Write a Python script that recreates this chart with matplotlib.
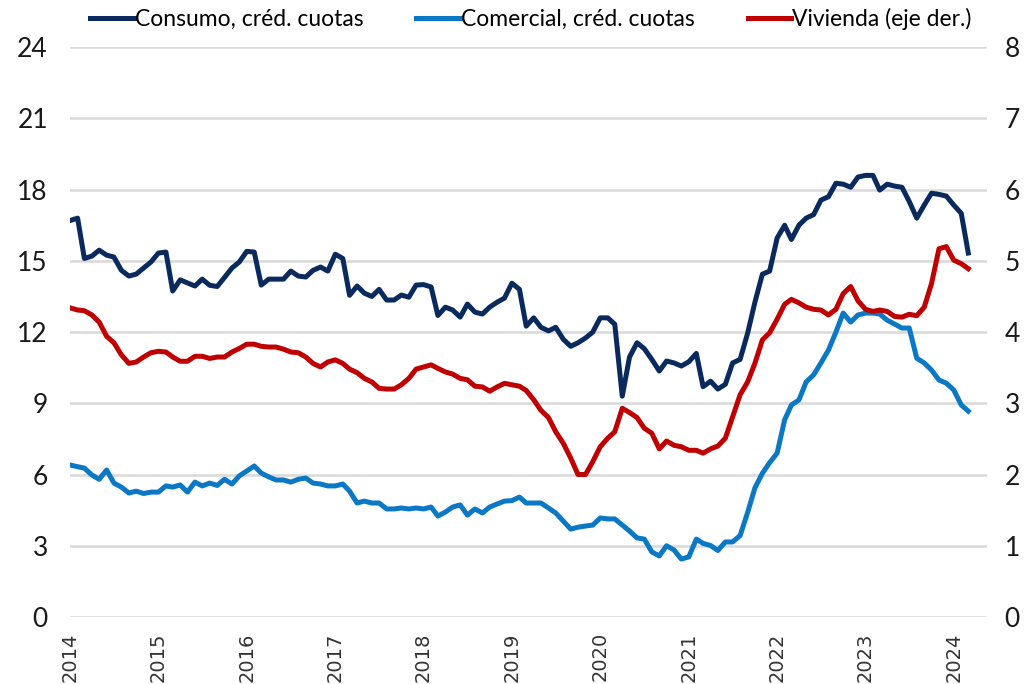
import matplotlib
matplotlib.use("Agg")
import matplotlib.pyplot as plt
import matplotlib.dates as mdates
import pandas as pd

# monthly series, Jan 2014 - Mar 2024
consumo = [16.7, 16.8, 15.1, 15.2, 15.45, 15.24, 15.16, 14.6, 14.36, 14.44, 14.7, 14.95,
           15.33, 15.37, 13.73, 14.2, 14.07, 13.94, 14.23, 13.97, 13.92, 14.3, 14.7, 14.95,
           15.4, 15.37, 13.98, 14.23, 14.23, 14.23, 14.57, 14.36, 14.32, 14.6, 14.74, 14.57,
           15.28, 15.1, 13.55, 13.94, 13.64, 13.5, 13.8, 13.35, 13.35, 13.56, 13.47, 13.98,
           14.0, 13.9, 12.7, 13.05, 12.93, 12.63, 13.18, 12.84, 12.76, 13.05, 13.26, 13.43,
           14.06, 13.8, 12.25, 12.6, 12.2, 12.05, 12.2, 11.7, 11.4, 11.55, 11.75, 12.0,
           12.6, 12.6, 12.33, 9.3, 10.95, 11.55, 11.3, 10.85, 10.36, 10.78, 10.7, 10.57,
           10.75, 11.1, 9.7, 9.93, 9.6, 9.8, 10.7, 10.85, 11.95, 13.25, 14.44, 14.57,
           15.96, 16.5, 15.9, 16.5, 16.8, 16.95, 17.56, 17.7, 18.27, 18.23, 18.1, 18.53,
           18.6, 18.6, 17.98, 18.23, 18.15, 18.1, 17.5, 16.8, 17.35, 17.85, 17.8, 17.73,
           17.35, 17.0, 15.33]

comercial = [6.4, 6.33, 6.27, 5.98, 5.8, 6.19, 5.64, 5.47, 5.22, 5.3, 5.2, 5.26,
             5.26, 5.52, 5.47, 5.56, 5.26, 5.68, 5.52, 5.64, 5.54, 5.8, 5.6, 5.94,
             6.15, 6.36, 6.06, 5.9, 5.77, 5.77, 5.68, 5.8, 5.85, 5.64, 5.6, 5.52,
             5.52, 5.6, 5.3, 4.8, 4.88, 4.8, 4.8, 4.55, 4.55, 4.59, 4.55, 4.59,
             4.55, 4.63, 4.25, 4.42, 4.63, 4.72, 4.29, 4.55, 4.38, 4.63, 4.76, 4.88,
             4.9, 5.05, 4.8, 4.8, 4.8, 4.59, 4.38, 4.04, 3.7, 3.78, 3.83, 3.87,
             4.17, 4.13, 4.13, 3.87, 3.62, 3.33, 3.28, 2.74, 2.57, 3.0, 2.82, 2.44,
             2.53, 3.28, 3.1, 3.01, 2.8, 3.16, 3.16, 3.43, 4.4, 5.43, 6.05, 6.5,
             6.9, 8.3, 8.93, 9.14, 9.9, 10.2, 10.7, 11.24, 12.0, 12.8, 12.42, 12.72,
             12.8, 12.8, 12.76, 12.5, 12.34, 12.17, 12.17, 10.9, 10.7, 10.4, 9.98, 9.85,
             9.56, 8.93, 8.67]

vivienda = [4.34, 4.31, 4.3, 4.24, 4.14, 3.94, 3.85, 3.68, 3.56, 3.58, 3.65, 3.71,
            3.73, 3.72, 3.65, 3.59, 3.59, 3.66, 3.66, 3.63, 3.65, 3.65, 3.72, 3.77,
            3.83, 3.83, 3.8, 3.79, 3.79, 3.76, 3.72, 3.71, 3.65, 3.56, 3.51, 3.58,
            3.61, 3.56, 3.48, 3.43, 3.35, 3.3, 3.21, 3.2, 3.2, 3.26, 3.35, 3.48,
            3.51, 3.54, 3.49, 3.44, 3.41, 3.35, 3.33, 3.24, 3.23, 3.17, 3.23, 3.28,
            3.26, 3.24, 3.18, 3.05, 2.9, 2.8, 2.6, 2.44, 2.23, 2.0, 2.0, 2.18,
            2.39, 2.51, 2.6, 2.93, 2.87, 2.8, 2.65, 2.58, 2.36, 2.47, 2.41, 2.39,
            2.34, 2.34, 2.3, 2.36, 2.4, 2.51, 2.81, 3.12, 3.3, 3.56, 3.89, 3.99,
            4.18, 4.39, 4.46, 4.41, 4.35, 4.32, 4.31, 4.24, 4.32, 4.54, 4.64, 4.44,
            4.32, 4.29, 4.31, 4.29, 4.22, 4.21, 4.25, 4.23, 4.35, 4.68, 5.17, 5.2,
            5.01, 4.96, 4.89]

labels = ["Consumo, créd. cuotas", "Comercial, créd. cuotas", "Vivienda (eje der.)"]
colors = ["#0a2a5e", "#0a78c4", "#c00000"]
years = list(range(2014, 2025))

dates = pd.date_range("2014-01-01", periods=len(consumo), freq="MS")

fig = plt.figure(figsize=(10.31, 6.84), dpi=100)
ax = fig.add_axes([0.068, 0.098, 0.889, 0.833])
ax2 = ax.twinx()

l1, = ax.plot(dates, consumo, color=colors[0], lw=3.6, label=labels[0])
l2, = ax.plot(dates, comercial, color=colors[1], lw=3.6, label=labels[1])
l3, = ax2.plot(dates, vivienda, color=colors[2], lw=3.6, label=labels[2])

ax.set_ylim(0, 24)
ax.set_yticks(range(0, 25, 3))
ax2.set_ylim(0, 8)
ax2.set_yticks(range(0, 9))

ax.set_xlim(pd.Timestamp("2014-01-01"), pd.Timestamp("2024-05-16"))
ax.set_xticks([pd.Timestamp(f"{y}-01-01") for y in years])
ax.xaxis.set_major_formatter(mdates.DateFormatter("%Y"))

ax.grid(axis="y", color="#d9d9d9", lw=1.8)
ax.set_axisbelow(True)
for a in (ax, ax2):
    for s in a.spines.values():
        s.set_visible(False)
    a.tick_params(length=0)

for t in ax.get_yticklabels() + ax2.get_yticklabels():
    t.set_family(["Lato", "DejaVu Sans"])
    t.set_fontsize(19)
    t.set_color("#1a1a1a")
ax.tick_params(axis="y", pad=16)
ax2.tick_params(axis="y", pad=13)

for t in ax.get_xticklabels():
    t.set_rotation(90)
    t.set_fontsize(14)
    t.set_color("#333333")
ax.tick_params(axis="x", pad=11)

fig.legend(handles=[l1, l2, l3], loc="center", bbox_to_anchor=(0.515, 0.972),
           ncol=3, frameon=False, handlelength=1.9, handletextpad=0.05,
           columnspacing=2.3, prop=dict(family=["Lato", "DejaVu Sans"], size=16.5))

fig.savefig("out.png", dpi=100)
